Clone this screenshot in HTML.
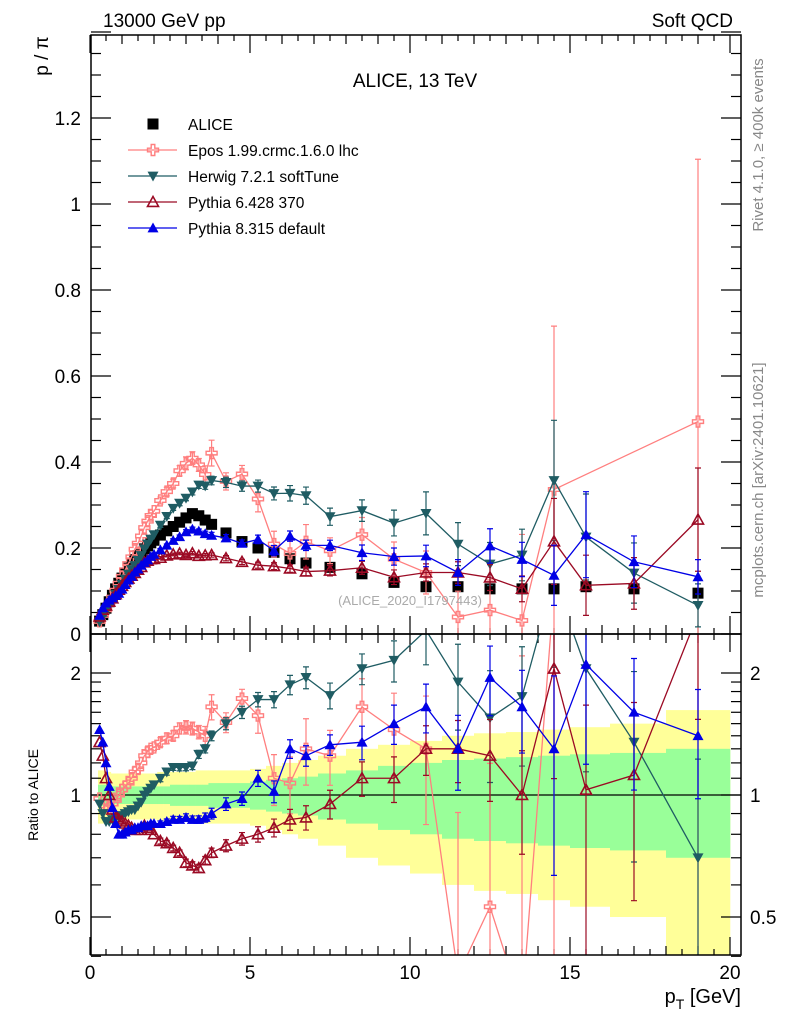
<!DOCTYPE html>
<html><head><meta charset="utf-8"><style>
html,body{margin:0;padding:0;background:#fff;width:786px;height:1024px;overflow:hidden;}
svg{display:block;font-family:"Liberation Sans",sans-serif;}
</style></head><body>
<svg id="chart" width="786" height="1024" viewBox="0 0 786 1024" xmlns="http://www.w3.org/2000/svg">
<defs>
<clipPath id="cm"><rect x="91" y="35" width="650" height="599"/></clipPath>
<clipPath id="cr"><rect x="91" y="634" width="650" height="321"/></clipPath>
</defs>
<g id="bands" clip-path="url(#cr)"></g>
<g id="grid"></g>
<g id="mainMarks" clip-path="url(#cm)"></g>
<g id="ratioMarks" clip-path="url(#cr)"></g>
<rect x="91" y="35" width="650" height="599" fill="none" stroke="#000" stroke-width="1.5"/>
<rect x="91" y="634" width="650" height="321" fill="none" stroke="#000" stroke-width="1.5"/>
<text x="103" y="27" font-size="19">13000 GeV pp</text>
<text x="733" y="27" font-size="19" text-anchor="end">Soft QCD</text>
<text x="415" y="87" font-size="19" text-anchor="middle">ALICE, 13 TeV</text>
<text transform="translate(48,56) rotate(-90)" font-size="19" text-anchor="middle">p / π</text>
<text transform="translate(38,795) rotate(-90)" font-size="14" text-anchor="middle">Ratio to ALICE</text>
<text x="741" y="1003" font-size="20" text-anchor="end">p<tspan font-size="14" dy="6">T</tspan><tspan dy="-6"> [GeV]</tspan></text>
<text transform="translate(763,145) rotate(-90)" font-size="15" fill="#888" text-anchor="middle">Rivet 4.1.0, ≥ 400k events</text>
<text transform="translate(763,480) rotate(-90)" font-size="15" fill="#888" text-anchor="middle">mcplots.cern.ch [arXiv:2401.10621]</text>
<text x="410" y="605" font-size="13" fill="#aaa" text-anchor="middle">(ALICE_2020_I1797443)</text>
<g id="legend"></g>
</svg>
<script>
const pt=[0.3,0.4,0.5,0.6,0.7,0.8,0.9,1.0,1.1,1.2,1.3,1.4,1.5,1.6,1.7,1.8,1.9,2.0,2.2,2.4,2.6,2.8,3.0,3.2,3.4,3.6,3.8,4.25,4.75,5.25,5.75,6.25,6.75,7.5,8.5,9.5,10.5,11.5,12.5,13.5,14.5,15.5,17,19];
const alice=[0.03,0.045,0.06,0.075,0.09,0.105,0.118,0.13,0.142,0.153,0.163,0.173,0.182,0.19,0.198,0.205,0.212,0.218,0.23,0.24,0.25,0.26,0.27,0.28,0.275,0.265,0.255,0.235,0.215,0.2,0.19,0.175,0.165,0.155,0.14,0.12,0.11,0.11,0.105,0.105,0.105,0.11,0.105,0.095];
const rEpos=[0.98,0.96,0.94,0.93,0.95,0.97,1.0,1.03,1.05,1.07,1.1,1.14,1.16,1.2,1.25,1.28,1.3,1.31,1.35,1.38,1.4,1.46,1.47,1.46,1.43,1.4,1.65,1.51,1.73,1.57,1.1,1.07,1.3,1.25,1.65,1.45,1.3,0.36,0.53,0.3,3.2,null,null,5.2];
const rHerwig=[0.95,0.9,0.86,0.86,0.87,0.88,0.88,0.89,0.9,0.91,0.92,0.92,0.94,0.96,1.0,1.02,1.04,1.06,1.1,1.14,1.17,1.17,1.17,1.18,1.26,1.3,1.4,1.5,1.6,1.72,1.72,1.87,1.95,1.76,2.05,2.15,2.55,1.9,1.55,1.75,3.4,2.05,1.35,0.7];
const rPy6=[1.35,1.25,1.1,1.0,0.92,0.88,0.87,0.86,0.85,0.84,0.83,0.82,0.82,0.82,0.84,0.83,0.82,0.8,0.77,0.76,0.74,0.72,0.68,0.67,0.66,0.69,0.72,0.75,0.78,0.8,0.83,0.87,0.88,0.95,1.1,1.1,1.3,1.3,1.25,1.0,2.05,1.03,1.12,2.8];
const rPy8=[1.45,1.35,1.2,1.05,0.93,0.85,0.8,0.8,0.81,0.82,0.82,0.83,0.83,0.84,0.84,0.84,0.85,0.85,0.85,0.86,0.87,0.87,0.88,0.87,0.87,0.88,0.9,0.95,0.98,1.1,1.02,1.3,1.25,1.33,1.35,1.5,1.65,1.3,1.95,1.65,1.3,2.1,1.6,1.4];
const eEpos=[0,0,0,0,0,0,0,0,0,0,0,0,0,0,0,0,0,0,0.008,0.01,0.01,0.012,0.015,0.015,0.015,0.02,0.03,0.02,0.02,0.03,0.03,0.03,0.04,0.03,0.04,0.04,0.05,0.06,0.07,0.2,0.38,0,0,0.61];
const eHerwig=[0,0,0,0,0,0,0,0,0,0,0,0,0,0,0,0,0,0,0.005,0.005,0.005,0.006,0.006,0.007,0.008,0.008,0.01,0.012,0.012,0.014,0.015,0.018,0.02,0.02,0.025,0.03,0.05,0.05,0.05,0.06,0.14,0.1,0.07,0.05];
const ePy6=[0,0,0,0,0,0,0,0,0,0,0,0,0,0,0,0,0,0,0.003,0.003,0.003,0.003,0.004,0.004,0.004,0.004,0.005,0.006,0.006,0.007,0.008,0.009,0.01,0.012,0.015,0.017,0.02,0.025,0.03,0.03,0.1,0.07,0.06,0.12];
const ePy8=[0,0,0,0,0,0,0,0,0,0,0,0,0,0,0,0,0,0,0.003,0.003,0.004,0.004,0.005,0.005,0.005,0.006,0.007,0.008,0.008,0.01,0.012,0.012,0.012,0.012,0.018,0.02,0.025,0.03,0.04,0.04,0.07,0.1,0.06,0.04];
const bandYellow=[0.15,0.15,0.14,0.14,0.13,0.13,0.13,0.13,0.13,0.13,0.13,0.13,0.13,0.13,0.13,0.13,0.13,0.13,0.14,0.14,0.14,0.14,0.14,0.14,0.15,0.15,0.15,0.15,0.15,0.16,0.18,0.2,0.22,0.25,0.3,0.33,0.36,0.4,0.42,0.43,0.45,0.47,0.5,0.62];
const bandGreen=[0.06,0.06,0.06,0.06,0.05,0.05,0.05,0.05,0.05,0.05,0.05,0.05,0.05,0.05,0.05,0.05,0.05,0.05,0.05,0.05,0.06,0.06,0.06,0.06,0.06,0.06,0.07,0.07,0.07,0.08,0.09,0.1,0.11,0.13,0.15,0.18,0.2,0.22,0.23,0.24,0.25,0.26,0.27,0.3];
const xTicks=[0,5,10,15,20];
const yTicks=[0,0.2,0.4,0.6,0.8,1,1.2];
const rTicks=[0.5,1,2];

const NS="http://www.w3.org/2000/svg";
const X=v=>90+32*v, Y=v=>634-430*v, R=v=>795-122*Math.log2(v);
function mk(tag,attrs,parent){const e=document.createElementNS(NS,tag);for(const k in attrs)e.setAttribute(k,attrs[k]);parent.appendChild(e);return e;}
const grid=document.getElementById('grid');
for(let i=0;i<=40;i++){const v=i*0.5;const maj=i%10===0;const L=maj?18:(i%2===0?9:6);
 for(const [y0,d] of [[634,-1],[35,1],[955,-1],[634,1]]){const t=mk('line',{x1:X(v),x2:X(v),y1:y0,y2:y0+d*L,stroke:'#000','stroke-width':1.2},grid);}}
xTicks.forEach(v=>{const t=mk('text',{x:X(v),y:979,'font-size':19,'text-anchor':'middle'},grid);t.textContent=v;});
for(let i=0;i<=28;i++){const v=i*0.05;const maj=i%4===0;const L=maj?20:10;
 for(const [x0,d] of [[91,1],[741,-1]]){const t=mk('line',{x1:x0,x2:x0+d*L,y1:Y(v),y2:Y(v),stroke:'#000','stroke-width':1.2},grid);}}
yTicks.forEach(v=>{const t=mk('text',{x:81,y:Y(v)+7,'font-size':19,'text-anchor':'end'},grid);t.textContent=v;});
[0.4,0.5,0.6,0.7,0.8,0.9,1,1.1,1.2,1.3,1.4,1.5,1.6,1.7,1.8,1.9,2].forEach(v=>{const maj=rTicks.includes(v);const L=maj?20:10;
 for(const [x0,d] of [[91,1],[741,-1]]){const t=mk('line',{x1:x0,x2:x0+d*L,y1:R(v),y2:R(v),stroke:'#000','stroke-width':1.2},grid);}});
rTicks.forEach(v=>{for(const [x,a] of [[81,'end'],[750,'start']]){const t=mk('text',{x:x,y:R(v)+7,'font-size':19,'text-anchor':a},grid);t.textContent=v;}});
const bands=document.getElementById('bands');
const edges=pt.map((p,i)=>i===0?0.25:(pt[i-1]+p)/2);edges.push(20);
for(const [arr,col,nm] of [[bandYellow,'#ffff99','band-yellow'],[bandGreen,'#99ff99','band-green']]){
 arr.forEach((e,i)=>{const r=mk('rect',{x:X(edges[i]),width:X(edges[i+1])-X(edges[i])+0.3,y:R(1+e),height:R(Math.max(1-e,0.3))-R(1+e),fill:col},bands);});}
const one=mk('line',{x1:91,x2:741,y1:R(1),y2:R(1),stroke:'#000','stroke-width':1.2},bands);

function marker(type,x,y,col,g){const s=5.5;let p;
 if(type==='sq')p=mk('rect',{x:x-s,y:y-s,width:2*s,height:2*s,fill:'#000'},g);
 else if(type==='down')p=mk('path',{d:`M${x-s},${y-s*0.8}L${x+s},${y-s*0.8}L${x},${y+s}Z`,fill:col},g);
 else if(type==='up')p=mk('path',{d:`M${x-s},${y+s*0.8}L${x+s},${y+s*0.8}L${x},${y-s}Z`,fill:col},g);
 else if(type==='upo')p=mk('path',{d:`M${x-s},${y+s*0.8}L${x+s},${y+s*0.8}L${x},${y-s}Z`,fill:'none',stroke:col,'stroke-width':1.6},g);
 else {const a=1.8,b=s;p=mk('path',{d:`M${x-a},${y-b}h${2*a}v${b-a}h${b-a}v${2*a}h${a-b}v${b-a}h${-2*a}v${a-b}h${a-b}v${-2*a}h${b-a}Z`,fill:'none',stroke:col,'stroke-width':1.4},g);}
 return p;}
const series=[
 {nm:'epos',r:rEpos,e:eEpos,col:'#ff7f7f',m:'cross',lab:'Epos 1.99.crmc.1.6.0 lhc'},
 {nm:'herwig',r:rHerwig,e:eHerwig,col:'#1f5c63',m:'down',lab:'Herwig 7.2.1 softTune'},
 {nm:'pythia6',r:rPy6,e:ePy6,col:'#9b0a24',m:'upo',lab:'Pythia 6.428 370'},
 {nm:'pythia8',r:rPy8,e:ePy8,col:'#0000e6',m:'up',lab:'Pythia 8.315 default'}];
const gm=document.getElementById('mainMarks'), gr=document.getElementById('ratioMarks');
alice.forEach((v,i)=>{const p=marker('sq',X(pt[i]),Y(v),'#000',gm);});
series.forEach(s=>{
 const vals=s.r.map((r,i)=>r==null?null:r*alice[i]);
 const pm=[],pr=[];vals.forEach((v,i)=>{if(v!=null){pm.push(X(pt[i])+','+Y(v));pr.push(X(pt[i])+','+R(s.r[i]));}});
 const l1=mk('polyline',{points:pm.join(' '),fill:'none',stroke:s.col,'stroke-width':1.3},gm);
 
 const l2=mk('polyline',{points:pr.join(' '),fill:'none',stroke:s.col,'stroke-width':1.3},gr);
 
 vals.forEach((v,i)=>{if(v==null)return;const x=X(pt[i]);const e=s.e[i];
  if(e>0){const b1=mk('path',{d:`M${x},${Y(v-e)}V${Y(v+e)}M${x-3},${Y(v-e)}h6M${x-3},${Y(v+e)}h6`,stroke:s.col,'stroke-width':1.2,fill:'none'},gm);
   
   const re=e/alice[i];const lo=Math.max(s.r[i]-re,0.05);
   const b2=mk('path',{d:`M${x},${R(lo)}V${R(s.r[i]+re)}M${x-3},${R(lo)}h6M${x-3},${R(s.r[i]+re)}h6`,stroke:s.col,'stroke-width':1.2,fill:'none'},gr);
   }
  const p=marker(s.m,x,Y(v),s.col,gm);
  const q=marker(s.m,x,R(s.r[i]),s.col,gr);
 });});
const lg=document.getElementById('legend');
const la=marker('sq',153,124,'#000',lg);
const lt=mk('text',{x:188,y:130,'font-size':15.5},lg);lt.textContent='ALICE';
series.forEach((s,k)=>{const y=150+26*k;
 const ln=mk('line',{x1:128,x2:177,y1:y,y2:y,stroke:s.col,'stroke-width':1.3},lg);
 const m=marker(s.m,153,y,s.col,lg);
 const t=mk('text',{x:188,y:y+6,'font-size':15.5},lg);t.textContent=s.lab;});
</script>
</body></html>
